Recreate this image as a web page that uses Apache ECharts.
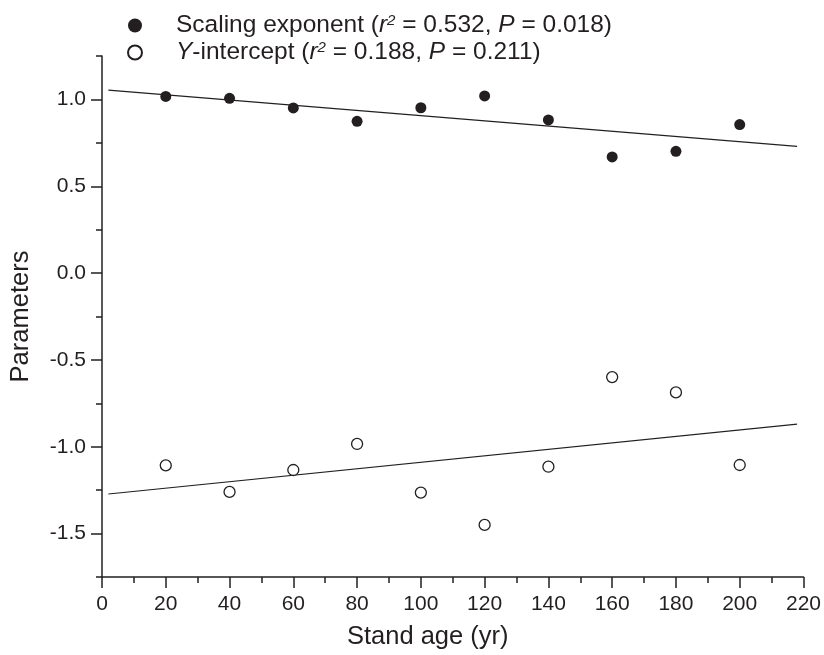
<!DOCTYPE html>
<html>
<head>
<meta charset="utf-8">
<script src="https://cdn.jsdelivr.net/npm/echarts@6/dist/echarts.min.js"></script>
<style>
  html, body { margin: 0; padding: 0; background: #fff; }
  #container { width: 824px; height: 655px; }
</style>
</head>
<body>
<div id="container"></div>
<script>
// data
var standAge = [20, 40, 60, 80, 100, 120, 140, 160, 180, 200];
var scalingExponent = [1.017, 1.006, 0.951, 0.874, 0.952, 1.02, 0.882, 0.669, 0.701, 0.855];
var yIntercept = [-1.107, -1.26, -1.134, -0.984, -1.264, -1.45, -1.115, -0.599, -0.687, -1.105];

// fitted lines, end points
var fitX = [2, 218];
var fitScaling = [1.054, 0.73];
var fitIntercept = [-1.272, -0.87];

// axis ticks
var yMajorTicks = [-1.5, -1.0, -0.5, 0.0, 0.5, 1.0];
var yMinorTicks = [-1.75, -1.25, -0.75, -0.25, 0.25, 0.75, 1.25];

var ink = '#231f20';
var font = 'Liberation Sans, Arial, sans-serif';

function pairs(xs, ys) {
    var res = [];
    for (var i = 0; i < xs.length; i++) res.push([xs[i], ys[i]]);
    return res;
}

var myChart = echarts.init(document.getElementById('container'));

var option = {
    backgroundColor: '#fff',
    animation: false,
    grid: { left: 102, right: 16, top: 56, bottom: 72 },
    legend: {
        orient: 'vertical',
        left: 122,
        top: 8,
        itemWidth: 14,
        itemHeight: 14,
        itemGap: 0,
        data: ['Scaling exponent', 'Y-intercept'],
        formatter: function (name) {
            if (name === 'Scaling exponent') {
                return '{g|}{n|Scaling exponent (}{i|r}{s|2}{n| = 0.532, }{i|P}{n| = 0.018)}';
            }
            return '{g|}{i|Y}{n|-intercept (}{i|r}{s|2}{n| = 0.188, }{i|P}{n| = 0.211)}';
        },
        textStyle: {
            color: ink,
            fontFamily: font,
            fontSize: 24.5,
            rich: {
                g: { width: 29 },
                n: { fontSize: 24.5, fontFamily: font, color: ink, lineHeight: 24 },
                i: { fontSize: 24.5, fontFamily: font, color: ink, fontStyle: 'italic', lineHeight: 24 },
                s: { fontSize: 15, fontFamily: font, color: ink, fontStyle: 'italic', verticalAlign: 'top', lineHeight: 24, padding: [0, 0, 12, 0] }
            }
        }
    },
    xAxis: {
        type: 'value',
        min: 0,
        max: 220,
        interval: 20,
        name: 'Stand age (yr)',
        nameLocation: 'middle',
        nameGap: 47,
        nameTextStyle: { color: ink, fontFamily: font, fontSize: 25.5, padding: [0, 50, 0, 0] },
        axisLine: { show: true, onZero: false, lineStyle: { color: ink, width: 1.5 } },
        axisTick: { show: true, length: 11, lineStyle: { color: ink, width: 1.5 } },
        minorTick: { show: true, splitNumber: 2, length: 6, lineStyle: { color: ink, width: 1.5 } },
        axisLabel: { color: ink, fontFamily: font, fontSize: 21, margin: 17 },
        splitLine: { show: false },
        minorSplitLine: { show: false }
    },
    yAxis: [
        {
            type: 'value',
            min: -1.75,
            max: 1.25,
            name: 'Parameters',
            nameLocation: 'middle',
            nameGap: 68,
            nameTextStyle: { color: ink, fontFamily: font, fontSize: 25.5 },
            axisLine: { show: true, onZero: false, lineStyle: { color: ink, width: 1.5 } },
            axisTick: { show: true, length: 11, customValues: yMajorTicks, lineStyle: { color: ink, width: 1.5 } },
            axisLabel: {
                color: ink, fontFamily: font, fontSize: 21, margin: 16,
                customValues: yMajorTicks,
                formatter: function (v) { return v.toFixed(1); }
            },
            splitLine: { show: false }
        },
        {
            type: 'value',
            min: -1.75,
            max: 1.25,
            position: 'left',
            axisLine: { show: false, onZero: false },
            axisTick: { show: true, length: 6, customValues: yMinorTicks, lineStyle: { color: ink, width: 1.5 } },
            axisLabel: { show: false },
            splitLine: { show: false }
        }
    ],
    series: [
        {
            name: 'Scaling exponent',
            type: 'scatter',
            symbol: 'circle',
            symbolSize: 11,
            itemStyle: { color: ink, opacity: 1 },
            data: pairs(standAge, scalingExponent),
            z: 3
        },
        {
            name: 'Y-intercept',
            type: 'scatter',
            symbol: 'circle',
            symbolSize: 11,
            itemStyle: { color: '#fff', borderColor: ink, borderWidth: 1.3, opacity: 1 },
            data: pairs(standAge, yIntercept),
            z: 3
        },
        {
            name: 'fit scaling',
            type: 'line',
            symbol: 'none',
            lineStyle: { color: ink, width: 1.2 },
            data: pairs(fitX, fitScaling),
            z: 2
        },
        {
            name: 'fit intercept',
            type: 'line',
            symbol: 'none',
            lineStyle: { color: ink, width: 1.2 },
            data: pairs(fitX, fitIntercept),
            z: 2
        }
    ]
};

myChart.setOption(option);
</script>
</body>
</html>
